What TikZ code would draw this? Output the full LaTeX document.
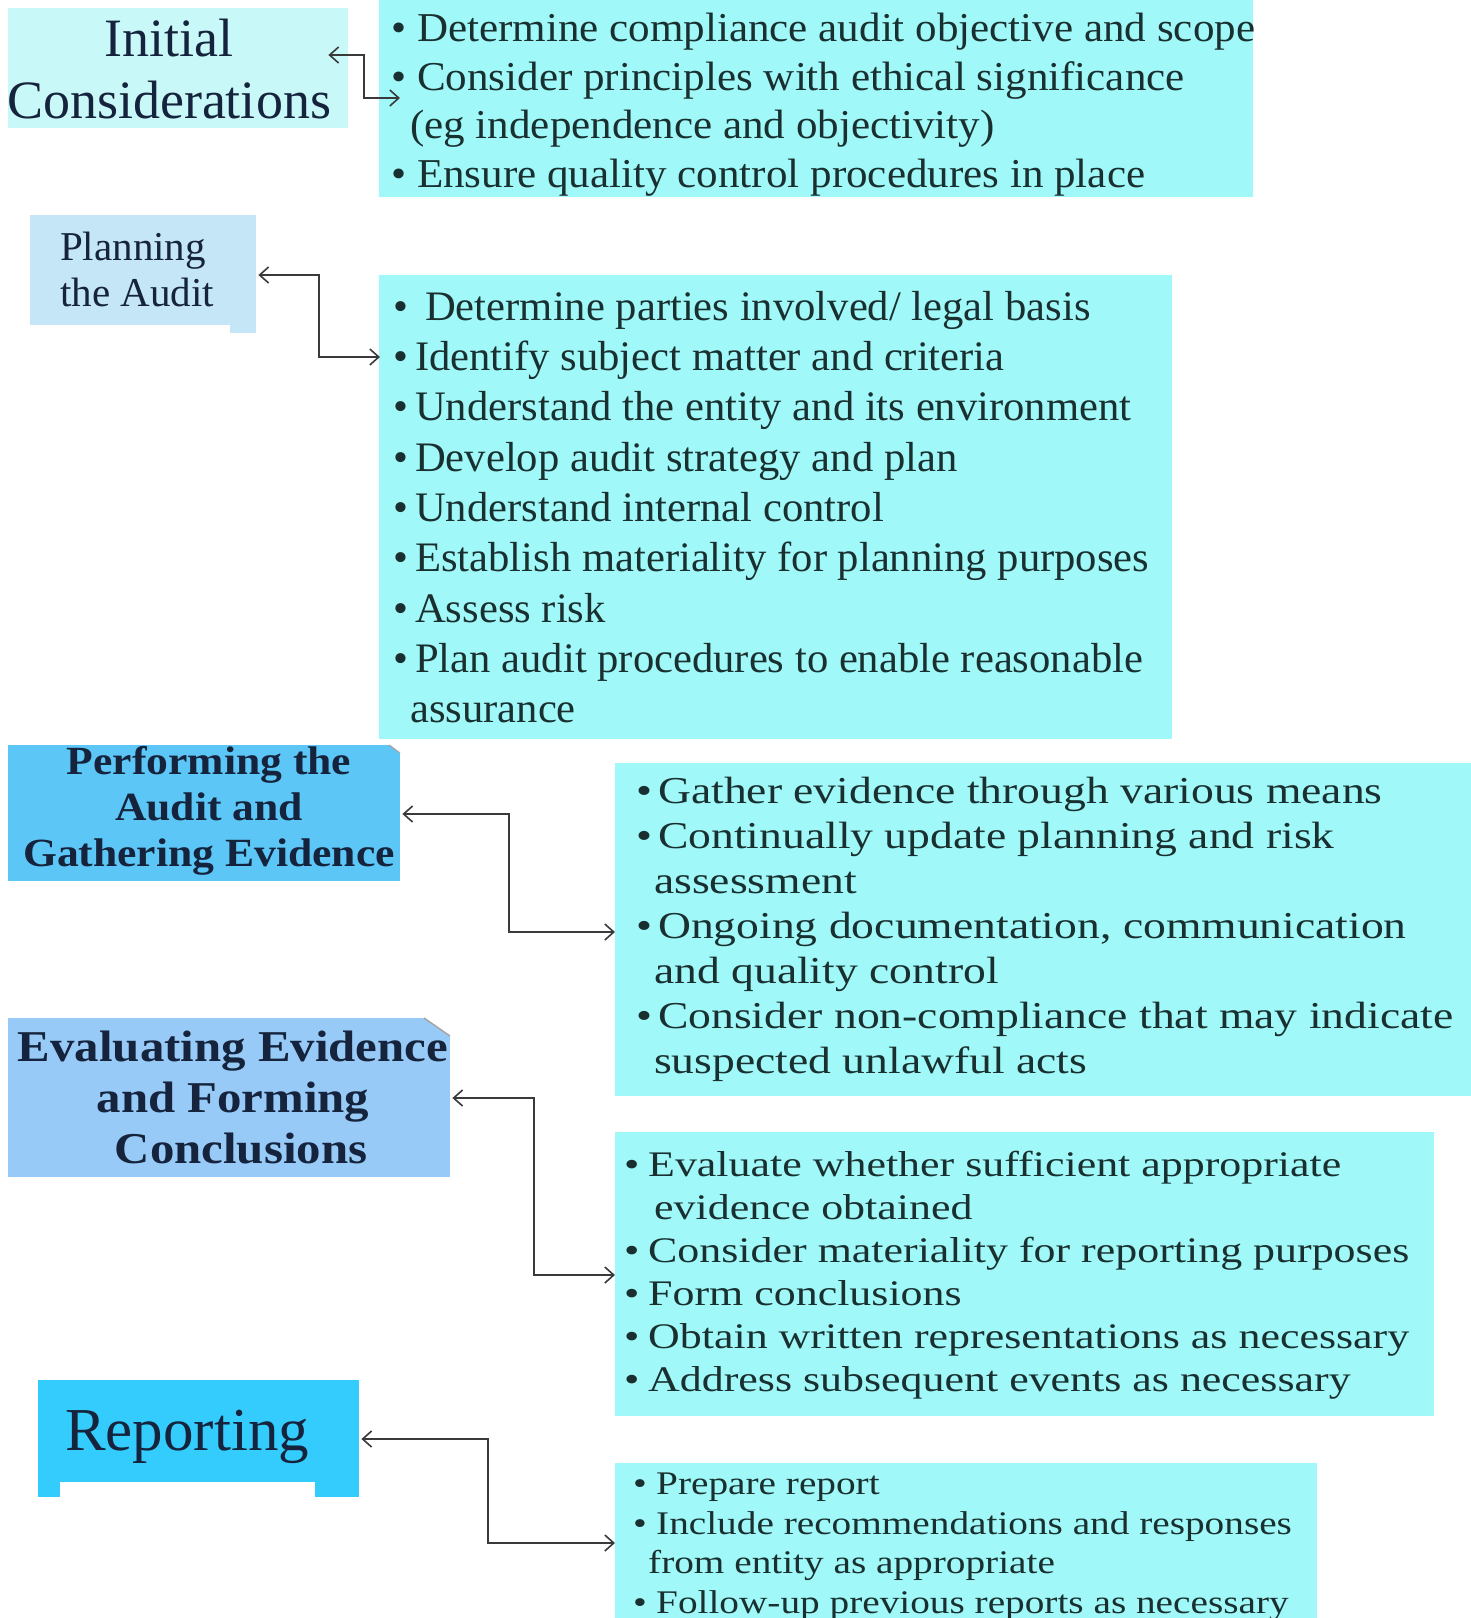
\documentclass[tikz,border=0pt]{standalone}
\usepackage{fontspec}
\usetikzlibrary{arrows.meta,calc}
\setmainfont{Liberation Serif}
\newfontfamily\fA{Liberation Serif}[FakeStretch=1.05]
\newfontfamily\fB{Liberation Serif}[FakeStretch=1.2]
\newfontfamily\fC{Liberation Serif}[FakeStretch=1.22]
\newfontfamily\fD{Liberation Serif}[FakeStretch=1.19]
\newfontfamily\fL{Liberation Serif}
\newfontfamily\fM{Liberation Serif}[FakeStretch=1.015]
\newfontfamily\fP{Liberation Serif Bold}[FakeStretch=1.09]
\newfontfamily\fE{Liberation Serif Bold}[FakeStretch=1.11]
\definecolor{listfill}{HTML}{A0F8F8}
\definecolor{initfill}{HTML}{C8F8F8}
\definecolor{planfill}{HTML}{C4E6F6}
\definecolor{perffill}{HTML}{5CC6F6}
\definecolor{evalfill}{HTML}{98CAF8}
\definecolor{repfill}{HTML}{34CCFC}
\definecolor{listtext}{HTML}{1A3030}
\definecolor{headtext}{HTML}{15243C}
\definecolor{linecol}{HTML}{3A3A3A}
\newcommand{\bul}[1]{\makebox[#1][l]{•}}
\begin{document}
\begin{tikzpicture}[x=1pt,y=-1pt,
  box/.style={rectangle,draw=none,inner sep=0pt,anchor=north west},
  listtxt/.style={inner sep=0pt,anchor=north west,align=left,text=listtext},
  headtxt/.style={inner sep=0pt,align=center,text=headtext},
  conn/.style={draw=linecol,line width=2pt,{Straight Barb[length=9pt,width=16pt,line width=1.6pt]}-{Straight Barb[length=9pt,width=16pt,line width=1.6pt]}}]
\useasboundingbox[fill=white] (0,0) rectangle (1471,1618);

% right-hand lists
\node[box,fill=listfill,minimum width=874pt,minimum height=197pt] (list1) at (379,0) {};
\node[box,fill=listfill,minimum width=793pt,minimum height=464pt] (list2) at (379,275) {};
\node[box,fill=listfill,minimum width=856pt,minimum height=333pt] (list3) at (615,763) {};
\node[box,fill=listfill,minimum width=819pt,minimum height=284pt] (list4) at (615,1132) {};
\node[box,fill=listfill,minimum width=702pt,minimum height=170pt] (list5) at (615,1463) {};

% left-hand stages
\node[box,fill=initfill,minimum width=340pt,minimum height=120pt] (init) at (8,8) {};
\node[box,fill=planfill,minimum width=226pt,minimum height=110pt] (plan) at (30,215) {};
\fill[planfill] (230,325) rectangle (256,333);
\node[box,fill=perffill,minimum width=392pt,minimum height=136pt] (perf) at (8,745) {};
\fill[white] (389,744) -- (401,744) -- (401,754) -- cycle;
\draw[gray!70,line width=1.2pt] (389,745) -- (400,753);
\node[box,fill=evalfill,minimum width=442pt,minimum height=159pt] (eval) at (8,1018) {};
\fill[white] (424,1017) -- (451,1017) -- (451,1037) -- cycle;
\draw[gray!70,line width=1.5pt] (424,1018) -- (450,1036);
\node[box,fill=repfill,minimum width=321pt,minimum height=117pt] (rep) at (38,1380) {};
\fill[white] (60,1482) rectangle (315,1497);

% stage titles
\node[headtxt,anchor=north,font={\fL\fontsize{54}{62}\selectfont}] (initT) at (169,19)
  {Initial\\Considerations};
\node[headtxt,anchor=north west,align=left,font={\fL\fontsize{41}{46}\selectfont}] (planT) at (60,232)
  {Planning\\the Audit};
\node[headtxt,anchor=north,font={\fP\fontsize{40}{46}\selectfont}] (perfT) at (209,746)
  {Performing the\\Audit and\\Gathering Evidence};
\node[headtxt,anchor=north,font={\fE\fontsize{44}{51}\selectfont}] (evalT) at (233,1031)
  {Evaluating Evidence\\and Forming\\\hspace*{16pt}Conclusions};
\node[headtxt,anchor=north west,font={\fL\fontsize{61}{70}\selectfont}] (repT) at (65,1410)
  {Reporting};

% list texts
\node[listtxt,font={\fA\fontsize{41}{48.5}\selectfont}] (list1T) at (391,13)
  {\bul{26pt}Determine compliance audit objective and scope\\
   \bul{26pt}Consider principles with ethical significance\\
   \hspace*{19pt}(eg independence and objectivity)\\
   \bul{26pt}Ensure quality control procedures in place};
\node[listtxt,font={\fM\fontsize{42}{50.3}\selectfont}] (list2T) at (393,291)
  {\bul{32pt}Determine parties involved/ legal basis\\
   \bul{22pt}Identify subject matter and criteria\\
   \bul{22pt}Understand the entity and its environment\\
   \bul{22pt}Develop audit strategy and plan\\
   \bul{22pt}Understand internal control\\
   \bul{22pt}Establish materiality for planning purposes\\
   \bul{22pt}Assess risk\\
   \bul{22pt}Plan audit procedures to enable reasonable\\
   \hspace*{17pt}assurance};
\node[listtxt,font={\fB\fontsize{38}{45}\selectfont}] (list3T) at (636,777)
  {\bul{22pt}Gather evidence through various means\\
   \bul{22pt}Continually update planning and risk\\
   \hspace*{18pt}assessment\\
   \bul{22pt}Ongoing documentation, communication\\
   \hspace*{18pt}and quality control\\
   \bul{22pt}Consider non-compliance that may indicate\\
   \hspace*{18pt}suspected unlawful acts};
\node[listtxt,font={\fC\fontsize{36}{43}\selectfont}] (list4T) at (624,1151)
  {\bul{24pt}Evaluate whether sufficient appropriate\\
   \hspace*{30pt}evidence obtained\\
   \bul{24pt}Consider materiality for reporting purposes\\
   \bul{24pt}Form conclusions\\
   \bul{24pt}Obtain written representations as necessary\\
   \bul{24pt}Address subsequent events as necessary};
\node[listtxt,font={\fD\fontsize{33}{39.5}\selectfont}] (list5T) at (633,1473)
  {\bul{23pt}Prepare report\\
   \bul{23pt}Include recommendations and responses\\
   \hspace*{15pt}from entity as appropriate\\
   \bul{23pt}Follow-up previous reports as necessary};

% connector end points
\coordinate (a1) at ($(init.north east)+(-20,47)$);
\coordinate (b1) at ($(list1.north west)+(21,98)$);
\coordinate (a2) at ($(plan.north east)+(2,60)$);
\coordinate (b2) at ($(list2.north west)+(1,82)$);
\coordinate (a3) at ($(perf.north east)+(2,69)$);
\coordinate (b3) at ($(list3.north west)+(0,169)$);
\coordinate (a4) at ($(eval.north east)+(2,80)$);
\coordinate (b4) at ($(list4.north west)+(0,143)$);
\coordinate (a5) at ($(rep.north east)+(2,59)$);
\coordinate (b5) at ($(list5.north west)+(0,80)$);

\draw[conn,line width=1.6pt] (a1) -| ($(a1)!0.5!(b1)$) |- (b1);
\draw[conn] (a2) -| ($(a2)!0.5!(b2)$) |- (b2);
\draw[conn] (a3) -| ($(a3)!0.5!(b3)$) |- (b3);
\draw[conn] (a4) -| ($(a4)!0.5!(b4)$) |- (b4);
\draw[conn] (a5) -| ($(a5)!0.5!(b5)$) |- (b5);
\end{tikzpicture}
\end{document}
